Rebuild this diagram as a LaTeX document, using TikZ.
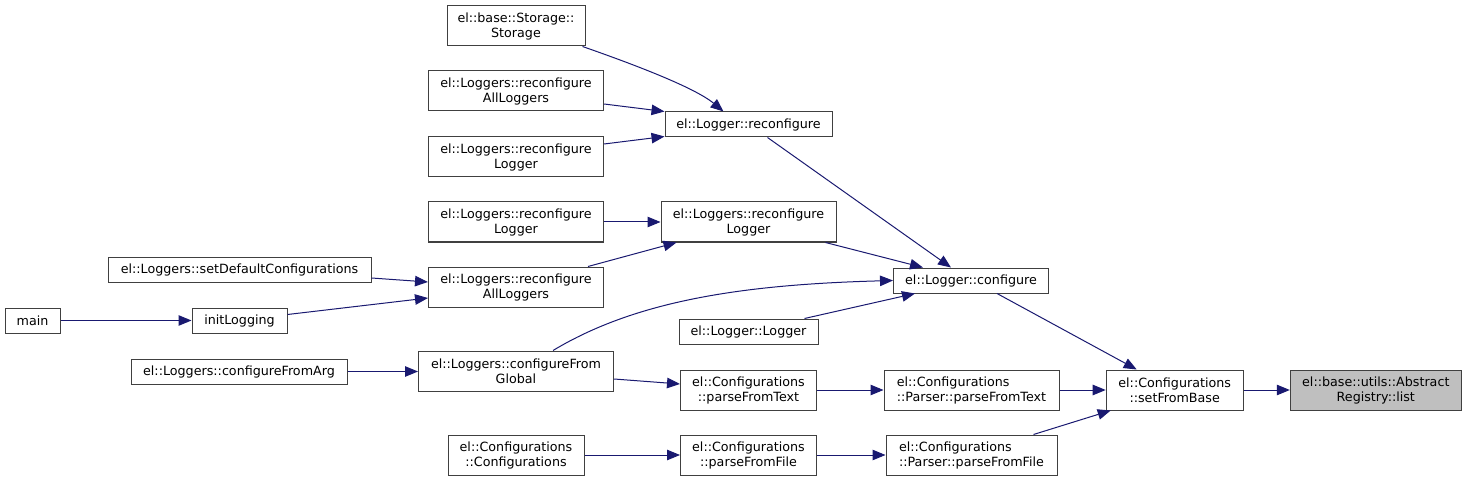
\documentclass[tikz,border=0pt]{standalone}
\usepackage{fontspec}
\setmainfont{DejaVu Sans}
\usetikzlibrary{arrows.meta,calc}
\definecolor{edgeblue}{HTML}{191970}
\definecolor{nodeborder}{HTML}{404040}
\definecolor{focusfill}{HTML}{BFBFBF}
\tikzset{
  nd/.style={draw=nodeborder, fill=white, line width=1pt, inner sep=0pt,
    font=\fontsize{12.7}{15}\selectfont, align=center, minimum height=25pt},
  nd2/.style={nd, minimum height=40pt},
  focus/.style={nd2, fill=focusfill},
  edge/.style={draw=edgeblue, line width=1pt, -{Triangle[length=13pt,width=10.5pt]}},
}
\begin{document}
\begin{tikzpicture}[x=1pt,y=-1pt]
\useasboundingbox (0,0) rectangle (1467,481);
% column 1
\node[nd, minimum width=55pt] (main) at (32.5,320.5) {main};
% column 2
\node[nd, minimum width=263pt] (setDef) at (239.5,270) {el::Loggers::setDefaultConfigurations};
\node[nd, minimum width=95pt] (initLog) at (239.5,320.5) {initLogging};
\node[nd, minimum width=216pt] (cfgArg) at (239,371.5) {el::Loggers::configureFromArg};
% column 3
\node[nd2, minimum width=138pt] (storage) at (516,26) {el::base::Storage::\\Storage};
\node[nd2, minimum width=175pt] (allTop) at (516,91) {el::Loggers::reconfigure\\AllLoggers};
\node[nd2, minimum width=175pt] (rl2) at (516,157) {el::Loggers::reconfigure\\Logger};
\node[nd2, minimum width=175pt] (rl3) at (516,222) {el::Loggers::reconfigure\\Logger};
\node[nd2, minimum width=175pt] (allLow) at (516,287) {el::Loggers::reconfigure\\AllLoggers};
\node[nd2, minimum width=195pt] (cfgGlobal) at (516,371) {el::Loggers::configureFrom\\Global};
\node[nd2, minimum width=136pt] (confConf) at (516,455) {el::Configurations\\::Configurations};
% column 4
\node[nd, minimum width=167pt] (reconf) at (748.5,124.5) {el::Logger::reconfigure};
\node[nd2, minimum width=175pt] (rlMid) at (748.5,222) {el::Loggers::reconfigure\\Logger};
\node[nd, minimum width=139pt] (loggerLogger) at (748.5,331.5) {el::Logger::Logger};
\node[nd2, minimum width=136pt] (pText) at (748.5,390) {el::Configurations\\::parseFromText};
\node[nd2, minimum width=136pt] (pFile) at (748.5,455) {el::Configurations\\::parseFromFile};
% column 5
\node[nd, minimum width=155pt] (configure) at (971,280.5) {el::Logger::configure};
\node[nd2, minimum width=175pt, align=left] (parserText) at (971.5,390) {el::Configurations\\::Parser::parseFromText};
\node[nd2, minimum width=171pt, align=left] (parserFile) at (971.5,455) {el::Configurations\\::Parser::parseFromFile};
% column 6
\node[nd2, minimum width=137pt] (setFromBase) at (1174.7,390) {el::Configurations\\::setFromBase};
% column 7
\node[focus, minimum width=171pt] (list) at (1375.8,390) {el::base::utils::Abstract\\Registry::list};
% edges
\draw[edge] (main) -- (initLog);
\draw[edge] ($(initLog.east)+(0,-6)$) -- ($(allLow.west)+(0,11)$);
\draw[edge] ($(setDef.east)+(0,8)$) -- ($(allLow.west)+(0,-5)$);
\draw[edge] (cfgArg.east) -- (cfgGlobal.west |- cfgArg.east);
\draw[edge] ($(storage.south east)+(-3,0)$) .. controls ($(storage.south east)+(40,15)$) and ($(reconf.north)+(-55,-25)$) .. ($(reconf.north)+(-25,0)$);
\draw[edge] ($(allTop.east)+(0,13)$) -- ($(reconf.west)+(0,-13)$);
\draw[edge] ($(rl2.east)+(0,-13)$) -- ($(reconf.west)+(0,12)$);
\draw[edge] (rl3) -- (rlMid);
\draw[edge] ($(allLow.north)+(72,0)$) -- ($(rlMid.south)+(-72,0)$);
\draw[edge] ($(reconf.south)+(19,0)$) -- ($(configure.north)+(-20,0)$);
\draw[edge] ($(rlMid.south east)+(-11,0)$) -- ($(configure.north)+(-48,0)$);
\draw[edge] ($(cfgGlobal.north)+(37,0)$) .. controls ($(cfgGlobal.north)+(120,-50)$) and ($(configure.west)+(-150,4)$) .. (configure.west);
\draw[edge] ($(loggerLogger.north)+(56,0)$) -- ($(configure.south)+(-56,0)$);
\draw[edge] ($(configure.south)+(26,0)$) -- ($(setFromBase.north)+(-38,0)$);
\draw[edge] ($(cfgGlobal.east)+(0,8)$) -- ($(pText.west)+(0,-6)$);
\draw[edge] (pText) -- (parserText);
\draw[edge] (parserText) -- (setFromBase);
\draw[edge] (confConf) -- (pFile);
\draw[edge] (pFile) -- (parserFile);
\draw[edge] ($(parserFile.north)+(62,0)$) -- ($(setFromBase.south)+(-64,0)$);
\draw[edge] (setFromBase) -- (list);
\end{tikzpicture}
\end{document}
